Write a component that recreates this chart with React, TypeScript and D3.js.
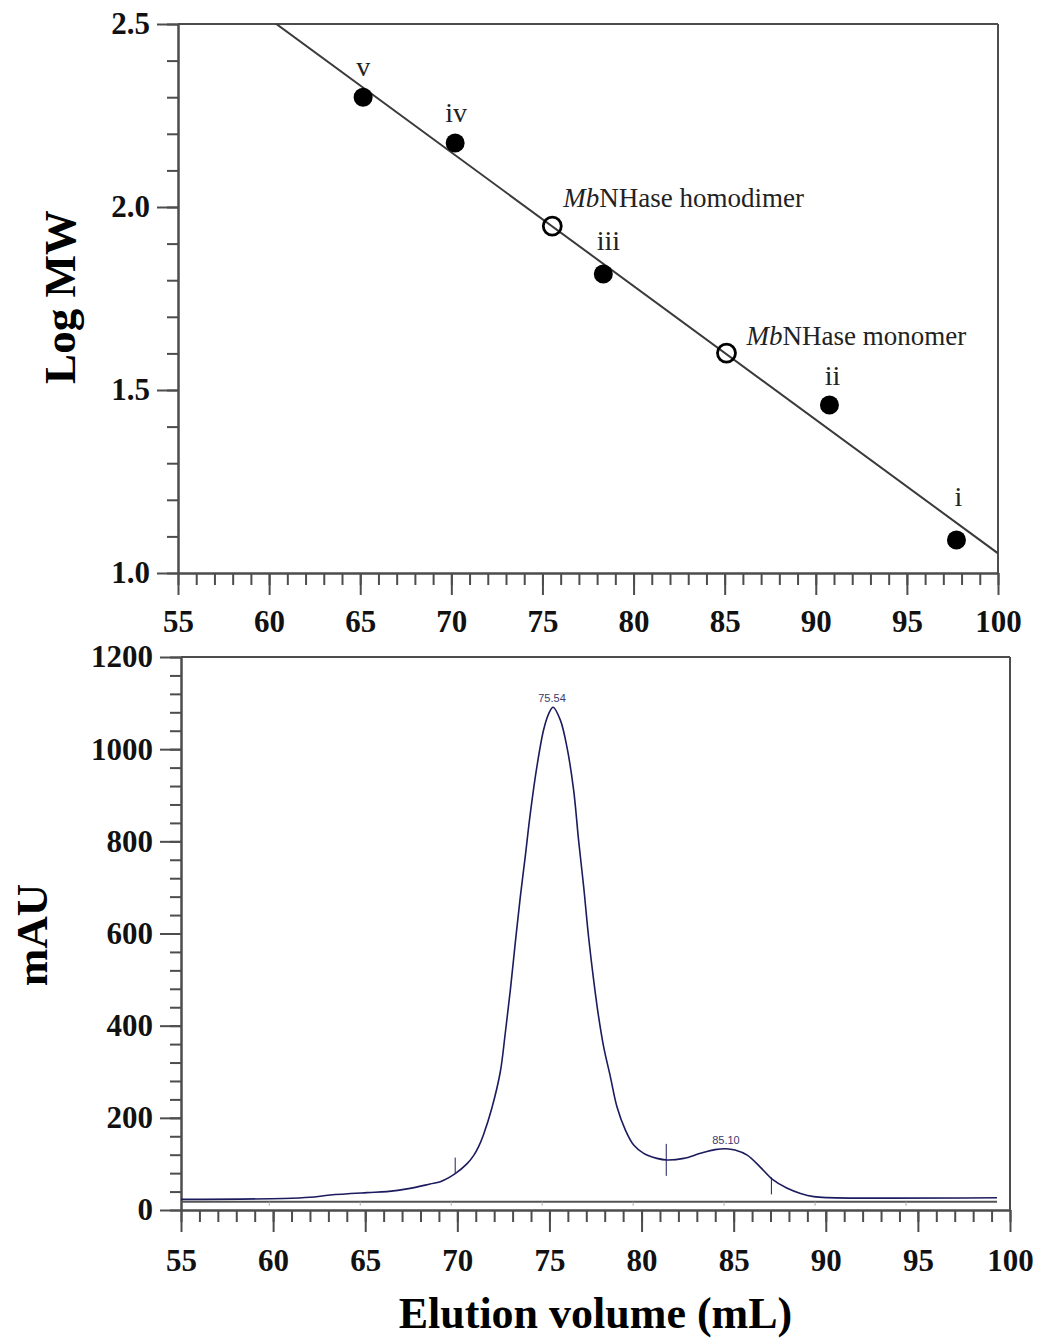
import React, { useEffect, useRef } from 'react';
import * as d3 from 'd3';

// ---- calibration standards (top panel)
const stdLabels = ['v', 'iv', 'iii', 'ii', 'i'];
const stdVolume = [65.16, 70.21, 78.34, 90.75, 97.72];
const stdLogMW = [2.30, 2.175, 1.817, 1.459, 1.09];

// MbNHase species placed on the fit
const sampleNames = ['homodimer', 'monomer'];
const sampleVolume = [75.54, 85.10];
const sampleLogMW = [1.948, 1.601];

// ---- chromatogram trace (bottom panel), recorder's own volume axis
const elutionVolume = [
    55.15, 60.78, 62.24, 63.34, 65.36, 66.46, 67.74, 68.84, 69.4, 70.22, 70.86,
    71.23, 71.5, 71.78, 72.24, 72.7, 72.97, 73.25, 73.52, 73.8, 74.07, 74.35, 74.71,
    75.08, 75.35, 75.6, 76.0, 76.36, 76.73, 77.0, 77.28, 77.55, 77.83, 78.1, 78.38,
    78.75, 79.11, 79.57, 80.03, 80.58, 81.31, 81.86, 82.78, 83.7, 84.5, 85.1, 85.6,
    86.27, 87.0, 87.64, 88.47, 89.2, 89.93, 90.67, 100.0
];
const absorbance = [
    23, 25, 27.5, 32.5, 37.6, 39.8, 47, 56.4, 61.4, 79, 100,
    118, 137, 164, 222, 300, 383, 477, 579, 680, 767, 861, 962,
    1042, 1076, 1091, 1063, 1005, 911, 803, 702, 593, 499, 420, 354,
    289, 224, 174, 141, 123, 112, 108.5, 112, 123, 131, 133, 130,
    119, 92.6, 67, 47, 36, 29, 26.8, 26.5
];

const peakVolumes = [75.54, 85.10];
const fractionMarks = [70.22, 81.82, 87.60];
const fractionKinds = ['start', 'split', 'end'];
const traceBaseline = 18;

// ---- ticks
const logTicks = [1.0, 1.5, 2.0, 2.5];
const logMinor = d3.range(10, 26).map(v => v / 10);
const mauTicks = [0, 200, 400, 600, 800, 1000, 1200];
const mauMinor = d3.range(0, 1201, 40);
const volTicks = [55, 60, 65, 70, 75, 80, 85, 90, 95, 100];
const volMinor = d3.range(55, 101, 1);
const traceTicks = [60, 65, 70, 75, 80, 85, 90, 95];

// label nudges (px) — layout only
const stdNudge = [[0, -21], [1, -21], [5, -24], [3, -20], [2, -34]];
const sampleNudge = [[11, -19], [20, -8]];

const SERIF = "'Liberation Serif', 'Times New Roman', serif";
const AXIS = '#4d4d4d';
const TRACE = '#1b1b5e';

export default function App() {
    const svgRef = useRef<SVGSVGElement>(null);

    useEffect(() => {
        const svg = d3.select(svgRef.current);
        svg.selectAll('*').remove();

        const styleAxis = (sel: any, fontSize = 31) => {
            sel.select('.domain').attr('stroke', AXIS).attr('stroke-width', 2);
            sel.selectAll('.tick line').attr('stroke', AXIS).attr('stroke-width', 2);
            sel.selectAll('.tick text')
                .attr('fill', '#111')
                .style('font-family', SERIF)
                .style('font-weight', 'bold')
                .style('font-size', `${fontSize}px`);
        };

        // ================= TOP: calibration =================
        const x1 = d3.scaleLinear().domain([55, 100]).range([178, 998]);
        const y1 = d3.scaleLinear().domain([1.0, 2.5]).range([573, 24]);

        const top = svg.append('g');

        top.append('clipPath').attr('id', 'clip-top')
            .append('rect')
            .attr('x', 178).attr('y', 24)
            .attr('width', 998 - 178).attr('height', 573 - 24);

        // frame
        top.append('line').attr('x1', 178).attr('x2', 998).attr('y1', 24).attr('y2', 24)
            .attr('stroke', AXIS).attr('stroke-width', 2);
        top.append('line').attr('x1', 998).attr('x2', 998).attr('y1', 24).attr('y2', 573)
            .attr('stroke', AXIS).attr('stroke-width', 2);

        top.append('g').attr('transform', 'translate(0,573)')
            .call(d3.axisBottom(x1).tickValues(volMinor).tickSize(12).tickSizeOuter(0).tickFormat(() => ''))
            .call(styleAxis);
        top.append('g').attr('transform', 'translate(0,573)')
            .call(d3.axisBottom(x1).tickValues(volTicks).tickSize(22).tickSizeOuter(0).tickPadding(15))
            .call(styleAxis);
        top.append('g').attr('transform', 'translate(178,0)')
            .call(d3.axisLeft(y1).tickValues(logMinor).tickSize(11).tickSizeOuter(0).tickFormat(() => ''))
            .call(styleAxis);
        top.append('g').attr('transform', 'translate(178,0)')
            .call(d3.axisLeft(y1).tickValues(logTicks).tickSize(21).tickSizeOuter(0).tickPadding(7)
                .tickFormat(d3.format('.1f')))
            .call(styleAxis);

        top.append('text')
            .attr('transform', 'translate(75,297) rotate(-90)')
            .attr('text-anchor', 'middle')
            .style('font-family', SERIF).style('font-weight', 'bold').style('font-size', '45px')
            .text('Log MW');

        // least-squares fit through standards
        const mx = d3.mean(stdVolume)!;
        const my = d3.mean(stdLogMW)!;
        const sxy = d3.sum(stdVolume, (v, i) => (v - mx) * (stdLogMW[i] - my));
        const sxx = d3.sum(stdVolume, v => (v - mx) ** 2);
        const slope = sxy / sxx;
        const icpt = my - slope * mx;
        const fitLine = d3.line<number>().x(v => x1(v)).y(v => y1(icpt + slope * v));
        top.append('path')
            .datum([55, 100])
            .attr('clip-path', 'url(#clip-top)')
            .attr('fill', 'none')
            .attr('stroke', '#3a3a3a')
            .attr('stroke-width', 2)
            .attr('d', fitLine);

        // standards
        stdVolume.forEach((v, i) => {
            top.append('circle')
                .attr('cx', x1(v)).attr('cy', y1(stdLogMW[i])).attr('r', 9.5)
                .attr('fill', '#000');
            top.append('text')
                .attr('x', x1(v) + stdNudge[i][0])
                .attr('y', y1(stdLogMW[i]) + stdNudge[i][1])
                .attr('text-anchor', 'middle')
                .attr('fill', '#222')
                .style('font-family', SERIF).style('font-size', '28px')
                .text(stdLabels[i]);
        });

        // MbNHase species
        sampleVolume.forEach((v, i) => {
            top.append('circle')
                .attr('cx', x1(v)).attr('cy', y1(sampleLogMW[i])).attr('r', 9)
                .attr('fill', 'none').attr('stroke', '#000').attr('stroke-width', 2.8);
            const t = top.append('text')
                .attr('x', x1(v) + sampleNudge[i][0])
                .attr('y', y1(sampleLogMW[i]) + sampleNudge[i][1])
                .attr('fill', '#222')
                .style('font-family', SERIF).style('font-size', '27px');
            t.append('tspan').style('font-style', 'italic').text('Mb');
            t.append('tspan').text(`NHase ${sampleNames[i]}`);
        });

        // ================= BOTTOM: chromatogram =================
        const x2 = d3.scaleLinear().domain([55, 100]).range([181, 1010]);
        const y2 = d3.scaleLinear().domain([0, 1200]).range([1210, 657]);
        // recorder frame is slightly offset from the replotted axis
        const xt = d3.scaleLinear().domain([55, 100]).range([178.3, 997]);

        const bot = svg.append('g');

        bot.append('line').attr('x1', 181).attr('x2', 1010).attr('y1', 657).attr('y2', 657)
            .attr('stroke', AXIS).attr('stroke-width', 2);
        bot.append('line').attr('x1', 1010).attr('x2', 1010).attr('y1', 657).attr('y2', 1210)
            .attr('stroke', AXIS).attr('stroke-width', 2);

        bot.append('g').attr('transform', 'translate(0,1210)')
            .call(d3.axisBottom(x2).tickValues(volMinor).tickSize(12).tickSizeOuter(0).tickFormat(() => ''))
            .call(styleAxis);
        bot.append('g').attr('transform', 'translate(0,1210)')
            .call(d3.axisBottom(x2).tickValues(volTicks).tickSize(22).tickSizeOuter(0).tickPadding(17))
            .call(styleAxis);
        bot.append('g').attr('transform', 'translate(181,0)')
            .call(d3.axisLeft(y2).tickValues(mauMinor).tickSize(11).tickSizeOuter(0).tickFormat(() => ''))
            .call(styleAxis);
        bot.append('g').attr('transform', 'translate(181,0)')
            .call(d3.axisLeft(y2).tickValues(mauTicks).tickSize(21).tickSizeOuter(0).tickPadding(7)
                .tickFormat(d3.format('d')))
            .call(styleAxis);

        bot.append('text')
            .attr('transform', 'translate(47,935) rotate(-90)')
            .attr('text-anchor', 'middle')
            .style('font-family', SERIF).style('font-weight', 'bold').style('font-size', '45px')
            .text('mAU');

        bot.append('text')
            .attr('x', (181 + 1010) / 2)
            .attr('y', 1328)
            .attr('text-anchor', 'middle')
            .style('font-family', SERIF).style('font-weight', 'bold').style('font-size', '44px')
            .text('Elution volume (mL)');

        // recorder baseline + its small ticks
        const by = y2(traceBaseline);
        bot.append('line')
            .attr('x1', xt(elutionVolume[0])).attr('x2', xt(elutionVolume[elutionVolume.length - 1]))
            .attr('y1', by).attr('y2', by)
            .attr('stroke', '#555').attr('stroke-width', 2);
        traceTicks.forEach(v => {
            bot.append('line')
                .attr('x1', xt(v)).attr('x2', xt(v)).attr('y1', by).attr('y2', by + 4)
                .attr('stroke', '#aaa').attr('stroke-width', 1);
        });

        // trace
        const pts = elutionVolume.map((v, i) => [v, absorbance[i]] as [number, number]);
        const trace = d3.line<[number, number]>()
            .x(d => xt(d[0]))
            .y(d => y2(d[1]))
            .curve(d3.curveCatmullRom.alpha(0.5));
        bot.append('path')
            .datum(pts)
            .attr('fill', 'none')
            .attr('stroke', TRACE)
            .attr('stroke-width', 1.6)
            .attr('d', trace);

        const valueAt = d3.scaleLinear().domain(elutionVolume).range(absorbance);

        // fraction / integration marks
        fractionMarks.forEach((v, i) => {
            const cy = y2(valueAt(v));
            const kind = fractionKinds[i];
            const yA = kind === 'end' ? cy - 1 : cy - 16;
            const yB = kind === 'start' ? cy : cy + 16;
            bot.append('line')
                .attr('x1', xt(v)).attr('x2', xt(v)).attr('y1', yA).attr('y2', yB)
                .attr('stroke', TRACE).attr('stroke-width', 1);
        });

        // peak labels
        peakVolumes.forEach(v => {
            const near = pts.filter(d => Math.abs(d[0] - v) < 1);
            const h = d3.max(near, d => d[1])!;
            bot.append('text')
                .attr('x', xt(v))
                .attr('y', y2(h) - 5)
                .attr('text-anchor', 'middle')
                .attr('fill', '#3a3a6e')
                .style('font-family', "'Liberation Sans', Arial, sans-serif")
                .style('font-size', '11px')
                .text(d3.format('.2f')(v));
        });
    }, []);

    return (
        <svg
            ref={svgRef}
            width={1040}
            height={1339}
            style={{ position: 'absolute', left: 0, top: 0, background: '#fff' }}
        />
    );
}
